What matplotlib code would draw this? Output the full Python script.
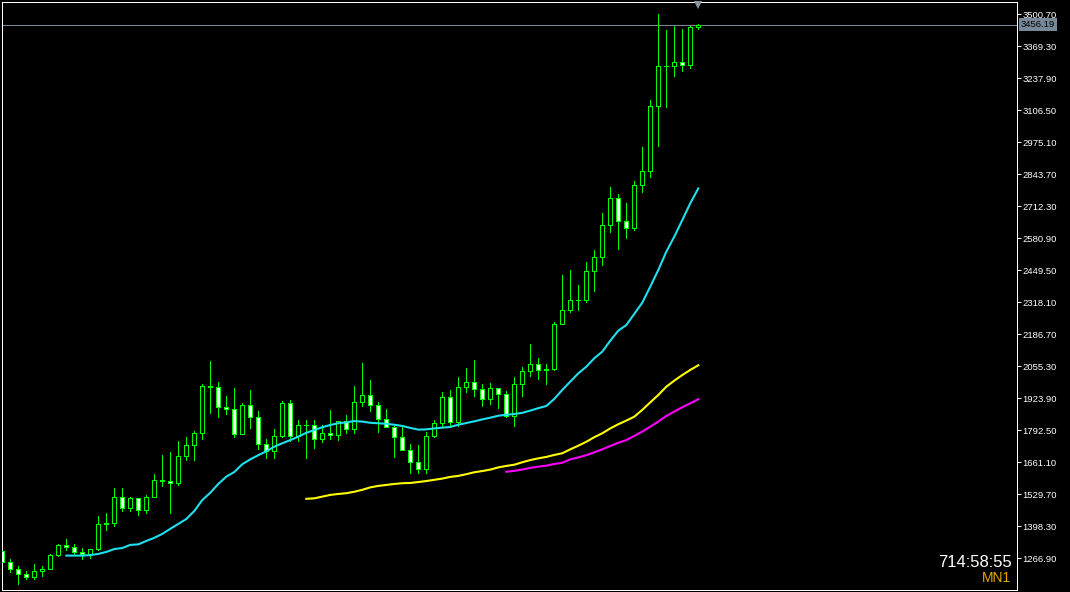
import matplotlib
matplotlib.use("Agg")
import matplotlib.pyplot as plt
import matplotlib.transforms as mtransforms

plt.rcParams['font.family'] = ['Liberation Sans', 'DejaVu Sans']

# XAUUSD monthly bars, Jun 2018 .. Sep 2025
opens = [1298, 1252, 1224, 1201, 1192, 1215, 1222,
         1281, 1321, 1313, 1292, 1284, 1305, 1409, 1413, 1520, 1472, 1513, 1464,
         1517, 1589, 1585, 1577, 1687, 1730, 1781, 1975, 1968, 1886, 1879, 1776,
         1898, 1847, 1734, 1708, 1769, 1906, 1770, 1814, 1813, 1757, 1783, 1774,
         1829, 1796, 1909, 1937, 1896, 1837, 1807, 1766, 1711, 1661, 1633, 1768,
         1824, 1928, 1826, 1969, 1990, 1963, 1919, 1965, 1940, 1849, 1983, 2036,
         2063, 2039, 2044, 2230, 2286, 2327, 2327, 2447, 2503, 2634, 2744, 2653,
         2624, 2798, 2857, 3124, 3288, 3289, 3303, 3290, 3448]
highs = [1309, 1266, 1237, 1214, 1243, 1237, 1284,
         1326, 1347, 1324, 1310, 1306, 1439, 1452, 1555, 1557, 1519, 1516, 1525,
         1611, 1689, 1704, 1747, 1765, 1789, 1984, 2075, 1992, 1933, 1965, 1906,
         1959, 1871, 1755, 1798, 1913, 1916, 1833, 1834, 1834, 1814, 1877, 1831,
         1853, 1974, 2070, 1998, 1910, 1879, 1814, 1808, 1735, 1730, 1786, 1833,
         1949, 1959, 2009, 2049, 2079, 1984, 1987, 1966, 1953, 2009, 2052, 2146,
         2088, 2065, 2236, 2431, 2450, 2388, 2483, 2531, 2685, 2790, 2761, 2726,
         2817, 2956, 3148, 3500, 3435, 3452, 3439, 3453, 3460]
lows = [1250, 1211, 1160, 1180, 1183, 1196, 1221,
        1276, 1302, 1281, 1266, 1267, 1301, 1382, 1400, 1459, 1459, 1445, 1454,
        1517, 1563, 1451, 1568, 1670, 1671, 1757, 1863, 1848, 1860, 1764, 1775,
        1802, 1717, 1677, 1678, 1766, 1750, 1750, 1680, 1721, 1746, 1758, 1753,
        1780, 1781, 1890, 1872, 1787, 1805, 1681, 1710, 1615, 1617, 1616, 1765,
        1804, 1804, 1809, 1950, 1932, 1893, 1902, 1885, 1846, 1810, 1931, 2016,
        2002, 1984, 2039, 2228, 2277, 2286, 2319, 2364, 2472, 2604, 2537, 2583,
        2615, 2772, 2833, 2957, 3120, 3247, 3268, 3281, 3438]
closes = [1252, 1224, 1201, 1192, 1215, 1222, 1281,
          1321, 1313, 1292, 1284, 1305, 1409, 1413, 1520, 1472, 1513, 1464, 1517,
          1589, 1585, 1577, 1687, 1730, 1781, 1975, 1968, 1886, 1879, 1776, 1898,
          1847, 1734, 1708, 1769, 1906, 1770, 1814, 1813, 1757, 1783, 1774, 1829,
          1796, 1909, 1937, 1896, 1837, 1807, 1766, 1711, 1661, 1633, 1768, 1824,
          1928, 1826, 1969, 1990, 1963, 1919, 1965, 1940, 1849, 1983, 2036, 2063,
          2039, 2044, 2230, 2286, 2327, 2327, 2447, 2503, 2634, 2744, 2653, 2624,
          2798, 2857, 3124, 3288, 3289, 3303, 3290, 3448, 3456.19]

# moving averages (first bar index where each one starts)
ma_fast_start = 8
ma_fast = [1278, 1278, 1278, 1280, 1285, 1293, 1305, 1309, 1322, 1324,
           1338, 1351, 1367, 1388, 1408, 1428, 1461, 1506, 1536, 1572,
           1602, 1621, 1653, 1673, 1690, 1706, 1725, 1739, 1752, 1766,
           1782, 1793, 1805, 1814, 1821, 1825, 1830, 1828, 1823, 1821,
           1819, 1815, 1810, 1802, 1795, 1796, 1800, 1803, 1806, 1815,
           1822, 1829, 1837, 1844, 1852, 1856, 1859, 1864, 1873, 1883,
           1892, 1921, 1958, 1992, 2026, 2053, 2088, 2115, 2160, 2201,
           2224, 2270, 2316, 2382, 2450, 2525, 2587, 2655, 2724, 2785]
ma_mid_start = 38
ma_mid = [1511, 1513, 1520, 1527, 1531, 1534, 1540, 1548, 1558, 1564,
          1568, 1572, 1575, 1576, 1580, 1584, 1589, 1594, 1601, 1605,
          1612, 1620, 1625, 1631, 1640, 1646, 1651, 1661, 1670, 1677,
          1683, 1691, 1698, 1714, 1729, 1745, 1764, 1780, 1800, 1817,
          1832, 1848, 1876, 1907, 1937, 1971, 1996, 2019, 2040, 2059]
ma_slow_start = 63
ma_slow = [1622, 1626, 1631, 1638, 1643, 1647, 1654, 1659, 1673, 1681,
           1690, 1702, 1714, 1728, 1741, 1752, 1769, 1787, 1807, 1828,
           1851, 1869, 1887, 1903, 1920]

price_ticks = [1266.90, 1398.30, 1529.70, 1661.10, 1792.50, 1923.90,
               2055.30, 2186.70, 2318.10, 2449.50, 2580.90, 2712.30,
               2843.70, 2975.10, 3106.50, 3237.90, 3369.30, 3500.70]
bid = 3456.19
timer_text = "714:58:55"
timeframe = "MN1"

W, H = 1070, 592
fig = plt.figure(figsize=(W / 100, H / 100), dpi=100, facecolor='black')
ax = fig.add_axes([2 / W, 2 / H, 1015 / W, 588 / H])
ax.set_facecolor('black')

n = len(opens)
x = list(range(n))
green = '#00ff00'
px = 0.72  # one pixel in points

# candles: wicks first, then bodies (bull = hollow, bear = white)
ax.vlines(x, lows, highs, color=green, linewidth=px, zorder=2, antialiased=False)
bottoms = [min(o, c) for o, c in zip(opens, closes)]
heights = [abs(c - o) for o, c in zip(opens, closes)]
fills = ['black' if c >= o else 'white' for o, c in zip(opens, closes)]
ax.bar(x, heights, width=0.5, bottom=bottoms, color=fills, edgecolor=green,
       linewidth=px, zorder=3, antialiased=False)

ax.plot(range(ma_fast_start, ma_fast_start + len(ma_fast)), ma_fast,
        color='#1fe0ee', linewidth=1.5, zorder=4)
ax.plot(range(ma_mid_start, ma_mid_start + len(ma_mid)), ma_mid,
        color='#ffff00', linewidth=1.5, zorder=4)
ax.plot(range(ma_slow_start, ma_slow_start + len(ma_slow)), ma_slow,
        color='#ff00ff', linewidth=1.5, zorder=4)

# bid line + label
ax.axhline(bid, color='#778899', linewidth=px, zorder=1)
ax.annotate(f"{bid:.2f}", xy=(1, bid), xycoords=('axes fraction', 'data'),
            xytext=(4, 0), textcoords='offset pixels', ha='left', va='center',
            color='black', fontsize=6.8,
            bbox=dict(boxstyle='square,pad=0.2', fc='#778899', ec='none'),
            annotation_clip=False)

# chart shift marker
trans = mtransforms.blended_transform_factory(ax.transData, ax.transAxes)
ax.plot([n - 1], [0.995], marker='v', markersize=6, color='#8c96a0',
        markeredgewidth=0, transform=trans, clip_on=False, zorder=5)

ax.set_xlim(-0.0375, 126.84)
ax.set_ylim(1136.8, 3549.95)
ax.set_xticks([])
ax.yaxis.tick_right()
ax.set_yticks(price_ticks)
ax.set_yticklabels([f"{v:.2f}" for v in price_ticks])
ax.tick_params(axis='y', colors='white', length=3, width=px, pad=1,
               labelsize=6.8, direction='out')
for s in ax.spines.values():
    s.set_color('white')
    s.set_linewidth(px)

fig.text(1012 / W, (H - 566.7) / H, timer_text, ha='right', va='baseline',
         color='white', fontsize=12)
fig.text(1011 / W, (H - 582) / H, timeframe, ha='right', va='baseline',
         color='#e6a800', fontsize=10)

fig.savefig('out.png', dpi=100, facecolor='black')
